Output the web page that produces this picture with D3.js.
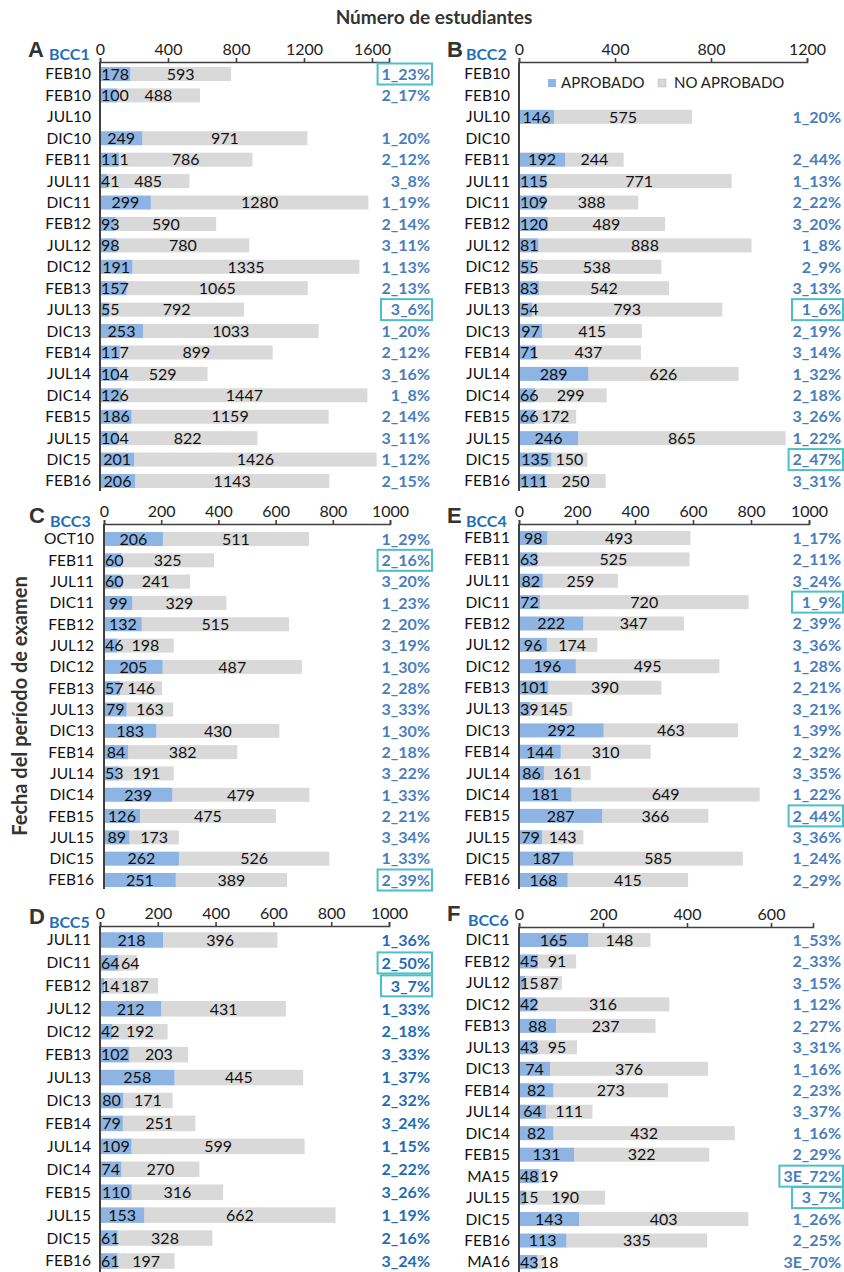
<!DOCTYPE html>
<html><head><meta charset="utf-8">
<script src="https://cdn.jsdelivr.net/npm/d3@7"></script>
<style>body{margin:0;background:#fff}svg{display:block}</style>
</head><body>
<svg id="chart" width="844" height="1272"></svg>
<script>
// ---------- DATA ----------
const catsA = ["FEB10","FEB10","JUL10","DIC10","FEB11","JUL11","DIC11","FEB12","JUL12","DIC12","FEB13","JUL13","DIC13","FEB14","JUL14","DIC14","FEB15","JUL15","DIC15","FEB16"];
const aprobA = [178,100,null,249,111,41,299,93,98,191,157,55,253,117,104,126,186,104,201,206];
const noAprobA = [593,488,null,971,786,485,1280,590,780,1335,1065,792,1033,899,529,1447,1159,822,1426,1143];
const pctA = ["1_23%","2_17%","","1_20%","2_12%","3_8%","1_19%","2_14%","3_11%","1_13%","2_13%","3_6%","1_20%","2_12%","3_16%","1_8%","2_14%","3_11%","1_12%","2_15%"];
const boxA = [0,11];
const ticksA = [0,400,800,1200,1600];

const catsB = ["FEB10","FEB10","JUL10","DIC10","FEB11","JUL11","DIC11","FEB12","JUL12","DIC12","FEB13","JUL13","DIC13","FEB14","JUL14","DIC14","FEB15","JUL15","DIC15","FEB16"];
const aprobB = [null,null,146,null,192,115,109,120,81,55,83,54,97,71,289,66,66,246,135,111];
const noAprobB = [null,null,575,null,244,771,388,489,888,538,542,793,415,437,626,299,172,865,150,250];
const pctB = ["","","1_20%","","2_44%","1_13%","2_22%","3_20%","1_8%","2_9%","3_13%","1_6%","2_19%","3_14%","1_32%","2_18%","3_26%","1_22%","2_47%","3_31%"];
const boxB = [11,18];
const ticksB = [0,400,800,1200];

const catsC = ["OCT10","FEB11","JUL11","DIC11","FEB12","JUL12","DIC12","FEB13","JUL13","DIC13","FEB14","JUL14","DIC14","FEB15","JUL15","DIC15","FEB16"];
const aprobC = [206,60,60,99,132,46,205,57,79,183,84,53,239,126,89,262,251];
const noAprobC = [511,325,241,329,515,198,487,146,163,430,382,191,479,475,173,526,389];
const pctC = ["1_29%","2_16%","3_20%","1_23%","2_20%","3_19%","1_30%","2_28%","3_33%","1_30%","2_18%","3_22%","1_33%","2_21%","3_34%","1_33%","2_39%"];
const boxC = [1,16];
const ticksC = [0,200,400,600,800,1000];

const catsE = ["FEB11","FEB11","JUL11","DIC11","FEB12","JUL12","DIC12","FEB13","JUL13","DIC13","FEB14","JUL14","DIC14","FEB15","JUL15","DIC15","FEB16"];
const aprobE = [98,63,82,72,222,96,196,101,39,292,144,86,181,287,79,187,168];
const noAprobE = [493,525,259,720,347,174,495,390,145,463,310,161,649,366,143,585,415];
const pctE = ["1_17%","2_11%","3_24%","1_9%","2_39%","3_36%","1_28%","2_21%","3_21%","1_39%","2_32%","3_35%","1_22%","2_44%","3_36%","1_24%","2_29%"];
const boxE = [3,13];
const ticksE = [0,200,400,600,800,1000];

const catsD = ["JUL11","DIC11","FEB12","JUL12","DIC12","FEB13","JUL13","DIC13","FEB14","JUL14","DIC14","FEB15","JUL15","DIC15","FEB16"];
const aprobD = [218,64,14,212,42,102,258,80,79,109,74,110,153,61,61];
const noAprobD = [396,64,187,431,192,203,445,171,251,599,270,316,662,328,197];
const pctD = ["1_36%","2_50%","3_7%","1_33%","2_18%","3_33%","1_37%","2_32%","3_24%","1_15%","2_22%","3_26%","1_19%","2_16%","3_24%"];
const boxD = [1,2];
const ticksD = [0,200,400,600,800,1000];

const catsF = ["DIC11","FEB12","JUL12","DIC12","FEB13","JUL13","DIC13","FEB14","JUL14","DIC14","FEB15","MA15","JUL15","DIC15","FEB16","MA16"];
const aprobF = [165,45,15,42,88,43,74,82,64,82,131,48,15,143,113,43];
const noAprobF = [148,91,87,316,237,95,376,273,111,432,322,19,190,403,335,18];
const pctF = ["1_53%","2_33%","3_15%","1_12%","2_27%","3_31%","1_16%","2_23%","3_37%","1_16%","2_29%","3E_72%","3_7%","1_26%","2_25%","3E_70%"];
const boxF = [11,12];
const ticksF = [0,200,400,600];

const seriesNames = ["APROBADO","NO APROBADO"];
const titleText = "Número de estudiantes";
const yTitleText = "Fecha del período de examen";

// ---------- LAYOUT ----------
const panels = [
  {letter:"A",name:"BCC1",cats:catsA,ap:aprobA,na:noAprobA,pct:pctA,box:boxA,ticks:ticksA,max:1700,x0:100,x1:389,axisY:62,y0:74,y1:481,yEnd:491,barH:14,labelR:91,pctR:430,lx:28,ly:57,nx:49,ny:60,pctColor:"#4a7ebb"},
  {letter:"B",name:"BCC2",cats:catsB,ap:aprobB,na:noAprobB,pct:pctB,box:boxB,ticks:ticksB,max:1200,x0:519,x1:807,axisY:62,y0:74,y1:481,yEnd:491,barH:14,labelR:510,pctR:841,lx:447,ly:57,nx:466,ny:60,pctColor:"#4a7ebb",legend:true},
  {letter:"C",name:"BCC3",cats:catsC,ap:aprobC,na:noAprobC,pct:pctC,box:boxC,ticks:ticksC,max:1000,x0:104,x1:390,axisY:524,y0:539,y1:880,yEnd:889,barH:14,labelR:94,pctR:430,lx:29,ly:523,nx:50,ny:527,pctColor:"#4a7ebb"},
  {letter:"E",name:"BCC4",cats:catsE,ap:aprobE,na:noAprobE,pct:pctE,box:boxE,ticks:ticksE,max:1000,x0:519,x1:809,axisY:524,y0:538,y1:880,yEnd:889,barH:14,labelR:510,pctR:841,lx:447,ly:523,nx:466,ny:527,pctColor:"#4a7ebb"},
  {letter:"D",name:"BCC5",cats:catsD,ap:aprobD,na:noAprobD,pct:pctD,box:boxD,ticks:ticksD,max:1000,x0:100,x1:389,axisY:926,y0:940,y1:1261,yEnd:1272,barH:15.5,labelR:91,pctR:430,lx:29,ly:924,nx:49,ny:928,pctColor:"#1f6cb4"},
  {letter:"F",name:"BCC6",cats:catsF,ap:aprobF,na:noAprobF,pct:pctF,box:boxF,ticks:ticksF,max:700,x0:519,x1:813,axisY:927,y0:940,y1:1262,yEnd:1272,barH:14,labelR:510,pctR:841,lx:447,ly:921,nx:468,ny:926,pctColor:"#4a7ebb"}
];

const FONT = "Lato, 'Open Sans', sans-serif";
const BLUE = "#8db4e2", GRAY = "#d9d9d9", AXIS = "#404040", TXT = "#111";
const svg = d3.select("#chart").style("font-family", FONT);

svg.append("text").attr("x",434).attr("y",24).attr("text-anchor","middle")
  .attr("font-size",19).attr("font-weight","bold").attr("fill","#333").text(titleText);
svg.append("text").attr("transform","translate(27,706) rotate(-90)").attr("text-anchor","middle")
  .attr("font-size",20).attr("font-weight","bold").attr("fill","#333").text(yTitleText);

panels.forEach(p => {
  const g = svg.append("g");
  const n = p.cats.length;
  const x = d3.scaleLinear().domain([0,p.max]).range([p.x0,p.x1]);
  const y = d3.scalePoint().domain(d3.range(n)).range([p.y0,p.y1]);

  // bars
  const rows = d3.range(n).filter(i => p.ap[i] != null);
  g.selectAll("rect.na").data(rows).join("rect")
    .attr("x", i => x(p.ap[i])).attr("width", i => x(p.ap[i]+p.na[i]) - x(p.ap[i]))
    .attr("y", i => y(i) - p.barH/2).attr("height", p.barH).attr("fill", GRAY);
  g.selectAll("rect.ap").data(rows).join("rect")
    .attr("x", x(0)).attr("width", i => x(p.ap[i]) - x(0))
    .attr("y", i => y(i) - p.barH/2).attr("height", p.barH).attr("fill", BLUE);

  // value labels
  rows.forEach(i => {
    const cy = y(i);
    const t1 = g.append("text").attr("font-size",16).attr("fill",TXT).attr("text-anchor","middle")
      .attr("dy","0.36em").attr("y",cy).text(p.ap[i]);
    const w1 = t1.node().getComputedTextLength();
    const c1 = Math.max((x(0)+x(p.ap[i]))/2, x(0) + w1/2 + 1);
    t1.attr("x", c1);
    const t2 = g.append("text").attr("font-size",16).attr("fill",TXT).attr("text-anchor","middle")
      .attr("dy","0.36em").attr("y",cy).text(p.na[i]);
    const w2 = t2.node().getComputedTextLength();
    const c2 = Math.max((x(p.ap[i])+x(p.ap[i]+p.na[i]))/2, c1 + w1/2 + w2/2 + 1.5);
    t2.attr("x", c2);
  });

  // top axis
  const ax = g.append("g").attr("transform",`translate(0,${p.axisY})`)
    .call(d3.axisTop(x).tickValues(p.ticks).tickFormat(d3.format("d"))
      .tickSizeInner(4).tickSizeOuter(4).tickPadding(3));
  ax.selectAll("path,line").attr("stroke",AXIS).attr("stroke-width",1.6);
  ax.selectAll("text").attr("font-size",16).attr("fill","#222").attr("font-family",FONT);

  // vertical axis line + category labels
  g.append("line").attr("x1",p.x0).attr("x2",p.x0).attr("y1",p.axisY).attr("y2",p.yEnd)
    .attr("stroke",AXIS).attr("stroke-width",2);
  const ya = g.append("g").attr("transform",`translate(${p.x0},0)`)
    .call(d3.axisLeft(y).tickSize(0).tickPadding(p.x0 - p.labelR).tickFormat(i => p.cats[i]));
  ya.select(".domain").remove();
  ya.selectAll("text").attr("font-size",15.5).attr("fill",TXT).attr("font-family",FONT);

  // percent labels + highlight boxes
  d3.range(n).forEach(i => {
    if (!p.pct[i]) return;
    const t = g.append("text").attr("x",p.pctR).attr("y",y(i)).attr("dy","0.36em")
      .attr("text-anchor","end").attr("font-size",16).attr("font-weight","bold")
      .attr("fill",p.pctColor).text(p.pct[i]);
    if (p.box.includes(i)) {
      const w = t.node().getComputedTextLength();
      const bw = Math.max(w + 6, 51);
      g.append("rect").attr("x", p.pctR + 2 - bw).attr("y", y(i) - 10.5)
        .attr("width", bw).attr("height", 21).attr("fill","none")
        .attr("stroke","#4bc0c8").attr("stroke-width",2);
    }
  });

  // panel letter & name
  g.append("text").attr("x",p.lx).attr("y",p.ly).attr("font-size",22).attr("font-weight","bold")
    .attr("font-family","'Liberation Sans', Arial, sans-serif").attr("fill","#333").text(p.letter);
  g.append("text").attr("x",p.nx).attr("y",p.ny).attr("font-size",16).attr("font-weight","bold")
    .attr("fill","#1f6fb8").text(p.name);

  // legend
  if (p.legend) {
    const lg = g.append("g");
    const items = [{c:BLUE,x:548,tx:561},{c:GRAY,x:658,tx:674}];
    items.forEach((it,k) => {
      lg.append("rect").attr("x",it.x).attr("y",79).attr("width",8).attr("height",8)
        .attr("fill",it.c).attr("stroke", k ? "#bdbdbd" : "none").attr("stroke-width",0.6);
      lg.append("text").attr("x",it.tx).attr("y",83).attr("dy","0.36em").attr("font-size",15)
        .attr("fill","#222").text(seriesNames[k]);
    });
  }
});
</script>
</body></html>
